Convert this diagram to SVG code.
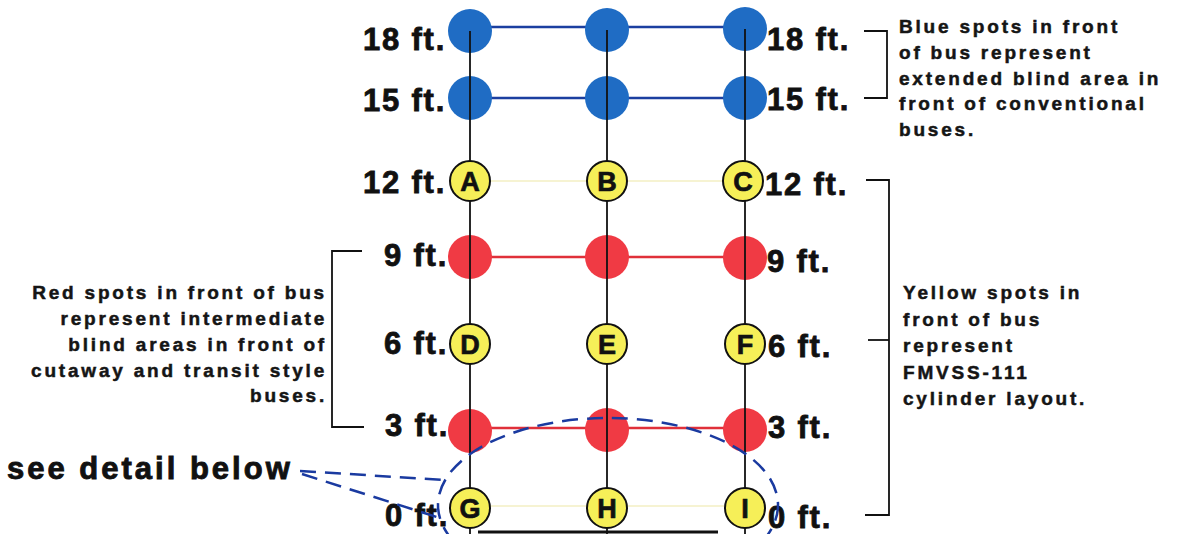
<svg xmlns="http://www.w3.org/2000/svg" width="1184" height="534" viewBox="0 0 1184 534">
<style>
.ft{font-family:"Liberation Sans",Arial,sans-serif;font-weight:bold;font-size:31px;letter-spacing:1.8px;fill:#111;stroke:#111;stroke-width:0.8px}
.note{font-family:"Liberation Sans",Arial,sans-serif;font-weight:bold;font-size:19px;letter-spacing:2.8px;fill:#151515;stroke:#151515;stroke-width:0.5px}
.big{font-family:"Liberation Sans",Arial,sans-serif;font-weight:bold;font-size:31px;letter-spacing:3px;fill:#111;stroke:#111;stroke-width:0.9px}
.blue{fill:#1f6cc4}
.red{fill:#f03a44}
.yel{fill:#f6ef58;stroke:#111;stroke-width:2}
.let{font-family:"Liberation Sans",Arial,sans-serif;font-weight:bold;font-size:27px;fill:#111;stroke:#111;stroke-width:0.7px;text-anchor:middle}
.vl{stroke:#111;stroke-width:1.8;fill:none}
.bl{stroke:#1b3fa0;stroke-width:2.5;fill:none}
.rl{stroke:#e0303a;stroke-width:2.5;fill:none}
.yl{stroke:#f6f3d2;stroke-width:2;fill:none}
.br{stroke:#111;stroke-width:1.8;fill:none}
.dash{stroke:#1a3aa0;stroke-width:2.5;fill:none;stroke-dasharray:16 9}
</style>
<rect width="1184" height="534" fill="#ffffff"/>

<g id="connectors">
  <line class="bl" x1="470" y1="27" x2="745" y2="27"/>
  <line class="bl" x1="470" y1="98" x2="745" y2="98"/>
  <line class="yl" x1="470" y1="181" x2="745" y2="181"/>
  <line class="rl" x1="470" y1="257" x2="745" y2="257"/>
  <line class="rl" x1="470" y1="428" x2="745" y2="428"/>
  <line class="yl" x1="470" y1="506" x2="745" y2="506"/>
  <line stroke="#111" stroke-width="3" x1="478" y1="532" x2="718" y2="532"/>
</g>

<g id="spots-blue">
  <circle class="blue" cx="470" cy="31" r="22"/>
  <circle class="blue" cx="607" cy="30" r="22"/>
  <circle class="blue" cx="745" cy="29" r="22"/>
  <circle class="blue" cx="470" cy="98" r="22"/>
  <circle class="blue" cx="607" cy="98" r="22"/>
  <circle class="blue" cx="745" cy="98" r="22"/>
</g>
<g id="spots-red">
  <circle class="red" cx="470" cy="257" r="22"/>
  <circle class="red" cx="607" cy="257" r="22"/>
  <circle class="red" cx="745" cy="258" r="22"/>
  <circle class="red" cx="470" cy="431" r="22"/>
  <circle class="red" cx="607" cy="430" r="22"/>
  <circle class="red" cx="745" cy="430" r="22"/>
</g>

<g id="verticals">
  <line class="vl" x1="470" y1="31" x2="470" y2="534"/>
  <line class="vl" x1="607" y1="30" x2="607" y2="534"/>
  <line class="vl" x1="745" y1="29" x2="745" y2="534"/>
</g>

<g id="node-A"><circle class="yel" cx="470" cy="181" r="20"/><text class="let" x="470" y="191">A</text></g>
<g id="node-B"><circle class="yel" cx="607" cy="181" r="20"/><text class="let" x="607" y="191">B</text></g>
<g id="node-C"><circle class="yel" cx="743" cy="181" r="20"/><text class="let" x="743" y="191">C</text></g>
<g id="node-D"><circle class="yel" cx="470" cy="344" r="20"/><text class="let" x="470" y="354">D</text></g>
<g id="node-E"><circle class="yel" cx="607" cy="344" r="20"/><text class="let" x="607" y="354">E</text></g>
<g id="node-F"><circle class="yel" cx="745" cy="344" r="20"/><text class="let" x="745" y="354">F</text></g>
<g id="node-G"><circle class="yel" cx="470" cy="508" r="20"/><text class="let" x="470" y="518">G</text></g>
<g id="node-H"><circle class="yel" cx="607" cy="508" r="20"/><text class="let" x="607" y="518">H</text></g>
<g id="node-I"><circle class="yel" cx="745" cy="508" r="20"/><text class="let" x="745" y="518">I</text></g>

<g id="labels-left">
  <text class="ft" x="363" y="50">18 ft.</text>
  <text class="ft" x="363" y="111">15 ft.</text>
  <text class="ft" x="363" y="193">12 ft.</text>
  <text class="ft" x="384" y="266">9 ft.</text>
  <text class="ft" x="384" y="354">6 ft.</text>
  <text class="ft" x="385" y="436">3 ft.</text>
  <text class="ft" x="385" y="526">0 ft.</text>
</g>
<g id="labels-right">
  <text class="ft" x="767" y="50">18 ft.</text>
  <text class="ft" x="767" y="110">15 ft.</text>
  <text class="ft" x="765" y="195">12 ft.</text>
  <text class="ft" x="767" y="272">9 ft.</text>
  <text class="ft" x="768" y="357">6 ft.</text>
  <text class="ft" x="768" y="438">3 ft.</text>
  <text class="ft" x="768" y="528">0 ft.</text>
</g>

<g id="bracket-blue">
  <polyline class="br" points="864,31 887,31 887,98 864,98"/>
  <text class="note" x="899" y="33">Blue spots in front</text>
  <text class="note" x="899" y="59">of bus represent</text>
  <text class="note" x="899" y="85">extended blind area in</text>
  <text class="note" x="899" y="110">front of conventional</text>
  <text class="note" x="899" y="136">buses.</text>
</g>
<g id="bracket-yellow">
  <polyline class="br" points="866,180 889,180 889,515 865,515"/>
  <line class="br" x1="868" y1="340" x2="889" y2="340"/>
  <text class="note" x="903" y="299">Yellow spots in</text>
  <text class="note" x="903" y="326">front of bus</text>
  <text class="note" x="903" y="352">represent</text>
  <text class="note" x="903" y="379">FMVSS-111</text>
  <text class="note" x="903" y="405">cylinder layout.</text>
</g>
<g id="bracket-red">
  <polyline class="br" points="362,251 332,251 332,427 364,427"/>
  <g text-anchor="end">
    <text class="note" x="327" y="299">Red spots in front of bus</text>
    <text class="note" x="327" y="325">represent intermediate</text>
    <text class="note" x="327" y="351">blind areas in front of</text>
    <text class="note" x="327" y="377">cutaway and transit style</text>
    <text class="note" x="327" y="402">buses.</text>
  </g>
</g>

<g id="detail">
  <ellipse class="dash" cx="608" cy="505" rx="170" ry="87"/>
  <line class="dash" x1="300" y1="471" x2="444" y2="480" stroke-dasharray="13 9"/>
  <line class="dash" x1="302" y1="474" x2="440" y2="518" stroke-dasharray="13 9"/>
  <text class="big" x="7" y="479">see detail below</text>
</g>
</svg>
